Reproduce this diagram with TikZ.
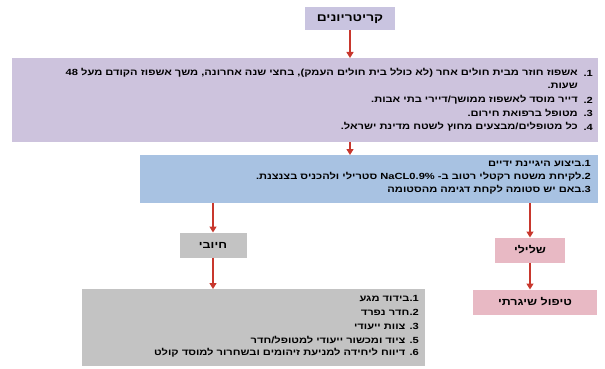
\documentclass[tikz,border=0pt]{standalone}
\usepackage{fontspec}
\setmainfont{Liberation Sans}
\newfontfamily\hebfont[Script=Hebrew,FakeStretch=1.25]{Liberation Sans}
\TeXXeTstate=1
\usetikzlibrary{arrows.meta,positioning}
\definecolor{critpurple}{HTML}{CDC3DD}
\definecolor{titlepurple}{HTML}{C9C4E0}
\definecolor{testblue}{HTML}{A8C2E2}
\definecolor{posgray}{HTML}{C3C3C3}
\definecolor{negpink}{HTML}{E8B9C4}
\definecolor{arrowred}{HTML}{C8372D}
\tikzset{
  flowarrow/.style={draw=arrowred, line width=1.3pt, -{Triangle[width=7pt,length=6pt]}},
  flowbox/.style={inner sep=0pt, outer sep=0pt, anchor=north west},
  labelbox/.style={inner sep=0pt, outer sep=0pt, font=\hebfont\fontsize{10}{11}\selectfont\bfseries},
  rline/.style={anchor=east, inner sep=0pt, font=\hebfont\fontsize{8.9}{10}\selectfont\bfseries},
}

\begin{document}
\begin{tikzpicture}[x=1pt, y=-1pt]
  \useasboundingbox (0,0) rectangle (605,369);
  %%%%% START %%%%%

  \node[labelbox, fill=titlepurple, minimum width=90, minimum height=23,
    font=\hebfont\fontsize{11}{12}\selectfont\bfseries] (title) at (350,19) {\beginR קריטריונים\endR};

  \node[flowbox, fill=critpurple, minimum width=586, minimum height=84] (crit) at (12,58) {};
  \node[rline] (c1n) at (593,73) {1.};
  \node[rline] (c1) at (578,73) {\beginR אשפוז חוזר מבית חולים אחר (לא כולל בית חולים העמק), בחצי שנה אחרונה, משך אשפוז הקודם מעל \beginL 48\endL\endR};
  \node[rline] (c1b) at (578,86) {\beginR שעות.\endR};
  \node[rline] (c2n) at (593,100) {2.};
  \node[rline] (c2) at (578,100) {\beginR דייר מוסד לאשפוז ממושך/דיירי בתי אבות.\endR};
  \node[rline] (c3n) at (593,113) {3.};
  \node[rline] (c3) at (578,113) {\beginR מטופל ברפואת חירום.\endR};
  \node[rline] (c4n) at (593,127) {4.};
  \node[rline] (c4) at (578,127) {\beginR כל מטופלים/מבצעים מחוץ לשטח מדינת ישראל.\endR};

  \node[flowbox, fill=testblue, minimum width=458, minimum height=48] (test) at (140,155) {};
  \node[rline] (t1) at (591,164) {\beginR\beginL 1.\endL ביצוע היגיינת ידיים\endR};
  \node[rline] (t2) at (591,177) {\beginR\beginL 2.\endL לקיחת משטח רקטלי רטוב ב- \beginL NaCL0.9\%\endL{} סטרילי ולהכניס בצנצנת.\endR};
  \node[rline] (t3) at (591,190) {\beginR\beginL 3.\endL באם יש סטומה לקחת דגימה מהסטומה\endR};

  \node[labelbox, fill=posgray, minimum width=67, minimum height=25] (pos) at (213,245) {\beginR חיובי\endR};
  \node[labelbox, fill=negpink, minimum width=70, minimum height=25] (neg) at (530,250) {\beginR שלילי\endR};
  \node[labelbox, fill=negpink, minimum width=124, minimum height=25] (routine) at (535,302) {\beginR טיפול שיגרתי\endR};

  \node[flowbox, fill=posgray, minimum width=343, minimum height=77] (isol) at (82,289) {};
  \node[rline] (i1) at (419,299) {\beginR\beginL 1.\endL בידוד מגע\endR};
  \node[rline] (i2) at (419,312) {\beginR\beginL 2.\endL חדר נפרד\endR};
  \node[rline] (i3) at (419,326) {\beginR\beginL 3.\endL{} צוות ייעודי\endR};
  \node[rline] (i5) at (419,340) {\beginR\beginL 5.\endL{} ציוד ומכשור ייעודי למטופל/חדר\endR};
  \node[rline] (i6) at (419,353) {\beginR\beginL 6.\endL{} דיווח ליחידה למניעת זיהומים ובשחרור למוסד קולט\endR};

  \draw[flowarrow] (title.south) -- (title.south |- crit.north);
  \draw[flowarrow] (crit.south -| title.south) -- (title.south |- test.north);
  \draw[flowarrow] (test.south -| pos.north) -- (pos.north);
  \draw[flowarrow] (test.south -| neg.north) -- (neg.north);
  \draw[flowarrow] (pos.south) -- (pos.south |- isol.north);
  \draw[flowarrow] (neg.south) -- (neg.south |- routine.north);

  %%%%% END %%%%%
\end{tikzpicture}
\end{document}
